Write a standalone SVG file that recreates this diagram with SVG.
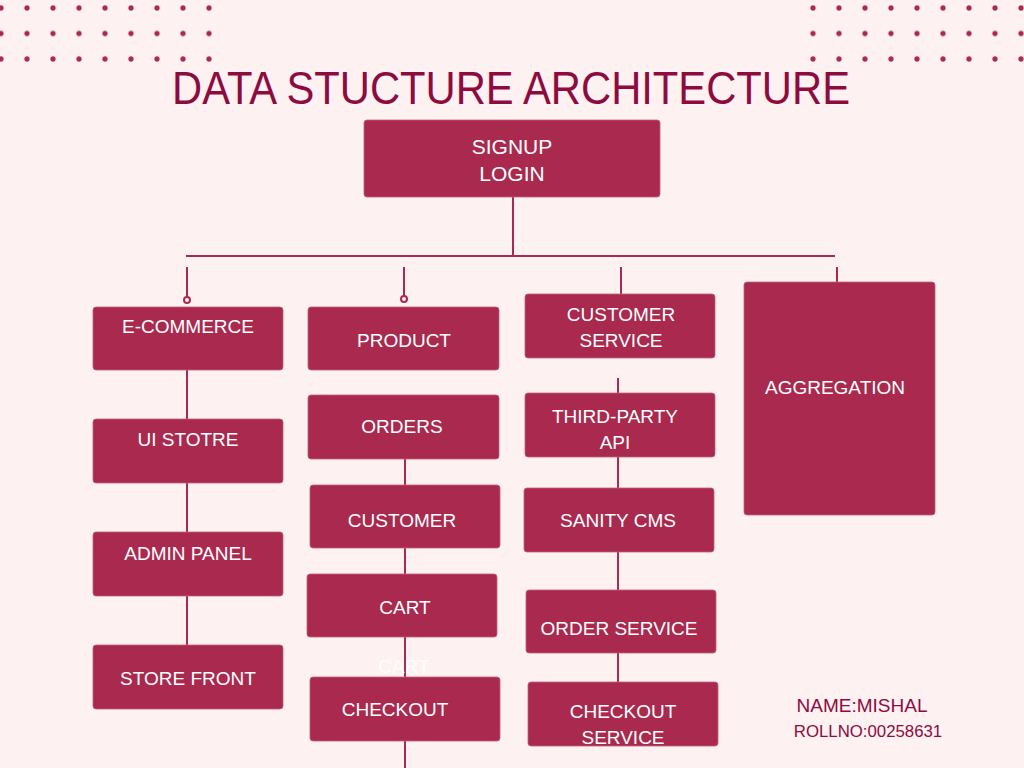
<svg xmlns="http://www.w3.org/2000/svg" width="1024" height="768" viewBox="0 0 1024 768">
<defs>
<style>
.bg{fill:#fdf1f1}
.dot{fill:#a92a4e}
.box{fill:#a92a4e;stroke:#c0607a;stroke-width:0.8}
.lbl{fill:#ffffff;font-family:"Liberation Sans",Arial,sans-serif;font-size:19px;text-anchor:middle}
.big{font-size:21px}
.ln{stroke:#a92a4e;stroke-width:2;fill:none}
.pin{stroke:#a92a4e;stroke-width:2;fill:#fdf1f1}
.title{fill:#8d0b3e;font-family:"Liberation Sans",Arial,sans-serif;font-size:46px;text-anchor:middle}
.info{fill:#8d0b3e;font-family:"Liberation Sans",Arial,sans-serif}
</style>
<pattern id="dotsL" x="1" y="8" width="26" height="25.5" patternUnits="userSpaceOnUse">
<circle class="dot" cx="0" cy="0" r="2.6"/>
<circle class="dot" cx="26" cy="0" r="2.6"/>
<circle class="dot" cx="0" cy="25.5" r="2.6"/>
<circle class="dot" cx="26" cy="25.5" r="2.6"/>
</pattern>
<pattern id="dotsR" x="813" y="8" width="26" height="25.5" patternUnits="userSpaceOnUse">
<circle class="dot" cx="0" cy="0" r="2.6"/>
<circle class="dot" cx="26" cy="0" r="2.6"/>
<circle class="dot" cx="0" cy="25.5" r="2.6"/>
<circle class="dot" cx="26" cy="25.5" r="2.6"/>
</pattern>
</defs>
<rect class="bg" x="0" y="0" width="1024" height="768"/>
<g id="dots-left">
<rect x="-2" y="5" width="215" height="57" fill="url(#dotsL)"/>
</g>
<g id="dots-right">
<rect x="809" y="5" width="215" height="57" fill="url(#dotsR)"/>
</g>
<text class="title" x="511" y="104" textLength="678" lengthAdjust="spacingAndGlyphs">DATA STUCTURE ARCHITECTURE</text>

<g id="connectors">
<line class="ln" x1="513" y1="197" x2="513" y2="256"/>
<line class="ln" x1="186" y1="256" x2="835" y2="256"/>
<line class="ln" x1="187" y1="267" x2="187" y2="297"/>
<circle class="pin" cx="187" cy="300" r="3"/>
<line class="ln" x1="404" y1="267" x2="404" y2="296"/>
<circle class="pin" cx="404" cy="299" r="3"/>
<line class="ln" x1="621" y1="267" x2="621" y2="294"/>
<line class="ln" x1="837" y1="267" x2="837" y2="282"/>
<line class="ln" x1="187" y1="370" x2="187" y2="419"/>
<line class="ln" x1="187" y1="483" x2="187" y2="532"/>
<line class="ln" x1="187" y1="596" x2="187" y2="645"/>
<line class="ln" x1="405" y1="459" x2="405" y2="485"/>
<line class="ln" x1="405" y1="548" x2="405" y2="574"/>
<line class="ln" x1="405" y1="637" x2="405" y2="677"/>
<line class="ln" x1="405" y1="741" x2="405" y2="768"/>
<line class="ln" x1="618" y1="378" x2="618" y2="393"/>
<line class="ln" x1="618" y1="457" x2="618" y2="488"/>
<line class="ln" x1="618" y1="552" x2="618" y2="590"/>
<line class="ln" x1="618" y1="653" x2="618" y2="682"/>
</g>

<g id="signup-login">
<rect class="box" x="364" y="120" width="296" height="77" rx="3"/>
<text class="lbl big" x="512" y="154">SIGNUP</text>
<text class="lbl big" x="512" y="181">LOGIN</text>
</g>

<g id="e-commerce">
<rect class="box" x="93" y="307" width="190" height="63" rx="3"/>
<text class="lbl" x="188" y="333">E-COMMERCE</text>
</g>
<g id="ui-stotre">
<rect class="box" x="93" y="419" width="190" height="64" rx="3"/>
<text class="lbl" x="188" y="446">UI STOTRE</text>
</g>
<g id="admin-panel">
<rect class="box" x="93" y="532" width="190" height="64" rx="3"/>
<text class="lbl" x="188" y="560">ADMIN PANEL</text>
</g>
<g id="store-front">
<rect class="box" x="93" y="645" width="190" height="64" rx="3"/>
<text class="lbl" x="188" y="685">STORE FRONT</text>
</g>

<g id="product">
<rect class="box" x="308" y="307" width="191" height="63" rx="3"/>
<text class="lbl" x="404" y="347">PRODUCT</text>
</g>
<g id="orders">
<rect class="box" x="308" y="395" width="191" height="64" rx="3"/>
<text class="lbl" x="402" y="433">ORDERS</text>
</g>
<g id="customer">
<rect class="box" x="310" y="485" width="190" height="63" rx="3"/>
<text class="lbl" x="402" y="527">CUSTOMER</text>
</g>
<g id="cart">
<rect class="box" x="307" y="574" width="190" height="63" rx="3"/>
<text class="lbl" x="405" y="614">CART</text>
</g>
<text class="lbl" x="404" y="673" fill-opacity="0.9">CART</text>
<g id="checkout">
<rect class="box" x="310" y="677" width="190" height="64" rx="3"/>
<text class="lbl" x="395" y="716">CHECKOUT</text>
</g>

<g id="customer-service">
<rect class="box" x="525" y="294" width="190" height="64" rx="3"/>
<text class="lbl" x="621" y="321">CUSTOMER</text>
<text class="lbl" x="621" y="347">SERVICE</text>
</g>
<g id="third-party-api">
<rect class="box" x="525" y="393" width="190" height="64" rx="3"/>
<text class="lbl" x="615" y="423">THIRD-PARTY</text>
<text class="lbl" x="615" y="449">API</text>
</g>
<g id="sanity-cms">
<rect class="box" x="524" y="488" width="190" height="64" rx="3"/>
<text class="lbl" x="618" y="527">SANITY CMS</text>
</g>
<g id="order-service">
<rect class="box" x="526" y="590" width="190" height="63" rx="3"/>
<text class="lbl" x="619" y="635">ORDER SERVICE</text>
</g>
<g id="checkout-service">
<rect class="box" x="528" y="682" width="190" height="64" rx="3"/>
<text class="lbl" x="623" y="718">CHECKOUT</text>
<text class="lbl" x="623" y="744">SERVICE</text>
</g>

<g id="aggregation">
<rect class="box" x="744" y="282" width="191" height="233" rx="3"/>
<text class="lbl" x="835" y="394">AGGREGATION</text>
</g>

<text class="info" x="862" y="712" font-size="19" text-anchor="middle">NAME:MISHAL</text>
<text class="info" x="868" y="737" font-size="16.8" text-anchor="middle">ROLLNO:00258631</text>
</svg>
